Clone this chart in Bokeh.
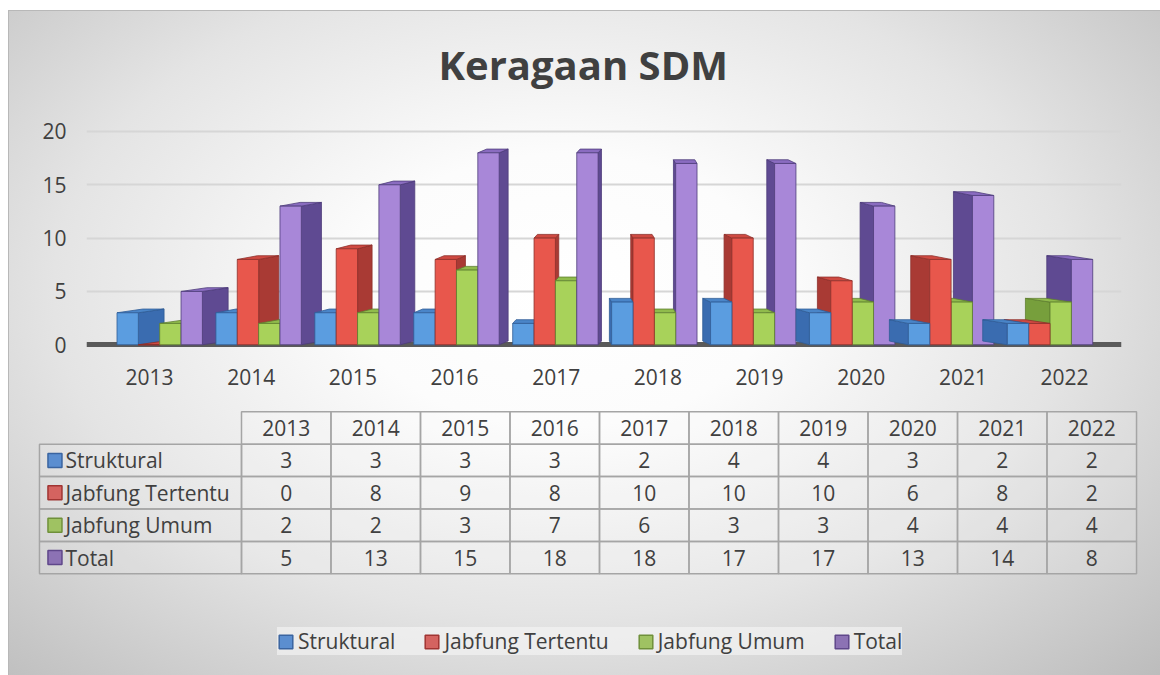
import numpy as np
from bokeh.plotting import figure
from bokeh.models import (Range1d, FixedTicker, ColumnDataSource, Legend, LegendItem, Title)
from bokeh.layouts import column
from bokeh.core.properties import value
from bokeh.embed import file_html
from bokeh.resources import INLINE

# ---------------- data ----------------
years = ["2013", "2014", "2015", "2016", "2017", "2018", "2019", "2020", "2021", "2022"]
series_names = ["Struktural", "Jabfung Tertentu", "Jabfung Umum", "Total"]
struktural = [3, 3, 3, 3, 2, 4, 4, 3, 2, 2]
jabfung_tertentu = [0, 8, 9, 8, 10, 10, 10, 6, 8, 2]
jabfung_umum = [2, 2, 3, 7, 6, 3, 3, 4, 4, 4]
total = [5, 13, 15, 18, 18, 17, 17, 13, 14, 8]
y_ticks = [0, 5, 10, 15, 20]
title_text = "Keragaan SDM"

series_values = [struktural, jabfung_tertentu, jabfung_umum, total]

# ---------------- styles ----------------
FONT = "Open Sans"
FS = "21px"
TXT = "#404040"
front_cols = ["#5b9de0", "#e8574c", "#a8d25a", "#a887d8"]
side_cols = ["#3a6cb0", "#a93a34", "#779f3c", "#5f4a92"]
top_cols = ["#4a85c8", "#cf4a42", "#90bb4c", "#8a6cc0"]
edge_cols = ["#2f5c96", "#8e2f2a", "#5f8030", "#4e3c7a"]
sq_fill = ["#5b8ed0", "#d46360", "#9fc262", "#8c72b4"]
sq_line = ["#3a64a0", "#a03432", "#6f903a", "#5f478a"]

n = len(years)
bar_w = 0.21
depth_y = 0.35

# ---------------- chart ----------------
p = figure(width=1152, height=395, x_range=Range1d(-0.62, 9.56), y_range=Range1d(-0.35, 21.5),
           output_backend="svg", toolbar_location=None,
           min_border_left=77, min_border_right=40, min_border_top=101, min_border_bottom=58)
p.frame_align = False
p.background_fill_color = None
p.border_fill_color = None
p.outline_line_color = None

p.title = Title(text=title_text, align="left", text_font=FONT, text_font_size="40px",
                text_font_style="bold", text_color=TXT, standoff=47, offset=352)

p.yaxis.ticker = FixedTicker(ticks=y_ticks)
p.xaxis.ticker = FixedTicker(ticks=list(range(n)))
p.xaxis.major_label_overrides = {i: y for i, y in enumerate(years)}
for ax in (p.xaxis, p.yaxis):
    ax.axis_line_color = None
    ax.major_tick_line_color = None
    ax.minor_tick_line_color = None
    ax.major_label_text_font = FONT
    ax.major_label_text_font_size = FS
    ax.major_label_text_color = TXT
p.xaxis.major_label_standoff = 14
p.yaxis.major_label_standoff = 14
p.xgrid.grid_line_color = None
p.ygrid.grid_line_color = "#d6d6d6"
p.ygrid.grid_line_width = 2

# floor
p.hspan(y=[y_ticks[0]], line_width=5, line_color="#5a5a5a")

# 3D bars as patches, ordered for occlusion
xs, ys, fills, lines = [], [], [], []
for i in range(n):
    shift = 0.1 - 0.027 * i
    sw = 0.055 * (4.6 - i)
    order = [0, 1, 2, 3] if sw >= 0 else [3, 2, 1, 0]
    for s in order:
        h = series_values[s][i]
        x0 = i + shift + (s - 2) * bar_w
        x1 = x0 + bar_w
        if sw >= 0:
            side_x = [x1, x1 + sw, x1 + sw, x1]
        else:
            side_x = [x0, x0 + sw, x0 + sw, x0]
        xs.append(side_x); ys.append([0, depth_y, h + depth_y, h])
        fills.append(side_cols[s]); lines.append(edge_cols[s])
        xs.append([x0, x1, x1 + sw, x0 + sw]); ys.append([h, h, h + depth_y, h + depth_y])
        fills.append(top_cols[s]); lines.append(edge_cols[s])
        xs.append([x0, x1, x1, x0]); ys.append([0, 0, h, h])
        fills.append(front_cols[s]); lines.append(edge_cols[s])

bars = ColumnDataSource(dict(xs=xs, ys=ys, fill=fills, line=lines))
p.patches("xs", "ys", source=bars, fill_color="fill", line_color="line", line_width=1, line_alpha=0.8)

# ---------------- data table ----------------
t = figure(width=1152, height=270, x_range=Range1d(-2.592, 10.279), y_range=Range1d(7.67, -0.664),
           output_backend="svg", toolbar_location=None,
           min_border=0, min_border_left=0, min_border_right=0, min_border_top=0, min_border_bottom=0)
t.frame_align = False
t.background_fill_color = None
t.border_fill_color = None
t.outline_line_color = None
t.xaxis.visible = False
t.yaxis.visible = False
t.grid.visible = False

label_col_left = -2.257
grid_col = "#a5a5a5"

# header cells
hx = [i + 0.5 for i in range(n)]
t.rect(x=hx, y=[0] * n, width=1, height=1, fill_color="white", fill_alpha=0.15,
       line_color=grid_col, line_width=1.5)
t.text(x=hx, y=[0] * n, text=years, text_font=value(FONT), text_font_size=FS,
       text_color=TXT, text_align="center", text_baseline="middle")

# data cells
cx, cy, ct = [], [], []
for s in range(len(series_names)):
    for i in range(n):
        cx.append(i + 0.5); cy.append(s + 1); ct.append(str(series_values[s][i]))
t.rect(x=cx, y=cy, width=1, height=1, fill_color="white", fill_alpha=0.15,
       line_color=grid_col, line_width=1.5)
t.text(x=cx, y=cy, text=ct, text_font=value(FONT), text_font_size=FS,
       text_color=TXT, text_align="center", text_baseline="middle")

# row label cells
rows = [s + 1 for s in range(len(series_names))]
t.rect(x=[label_col_left / 2] * len(rows), y=rows, width=-label_col_left, height=1,
       fill_color="white", fill_alpha=0.1, line_color=grid_col, line_width=1.5)
sq = t.rect(x=[label_col_left + 0.173] * len(rows), y=rows, width=14, height=14,
            width_units="screen", height_units="screen",
            fill_color=sq_fill, line_color=sq_line, line_width=1.5)
t.text(x=[label_col_left + 0.29] * len(rows), y=rows, text=series_names, text_font=value(FONT),
       text_font_size=FS, text_color=TXT, text_align="left", text_baseline="middle")

legend = Legend(items=[LegendItem(label=series_names[k], renderers=[sq], index=k)
                       for k in range(len(series_names))],
                orientation="horizontal", location=(268, 21),
                label_text_font=FONT, label_text_font_size=FS, label_text_color=TXT,
                glyph_width=17, glyph_height=17, label_standoff=4, spacing=28,
                padding=10, margin=0, border_line_color=None,
                background_fill_color="#f7f7f7", background_fill_alpha=0.6)
t.add_layout(legend)

layout = column(p, t, margin=(10, 0, 0, 8),
                styles={"background": "radial-gradient(ellipse at 48% 42%, #ffffff 0%, #fcfcfc 25%, #e4e4e4 60%, #bcbcbc 100%)",
                        "border-left": "1px solid #b8b8b8", "border-top": "1px solid #b8b8b8"})

open("out.html", "w").write(file_html(layout, INLINE))
